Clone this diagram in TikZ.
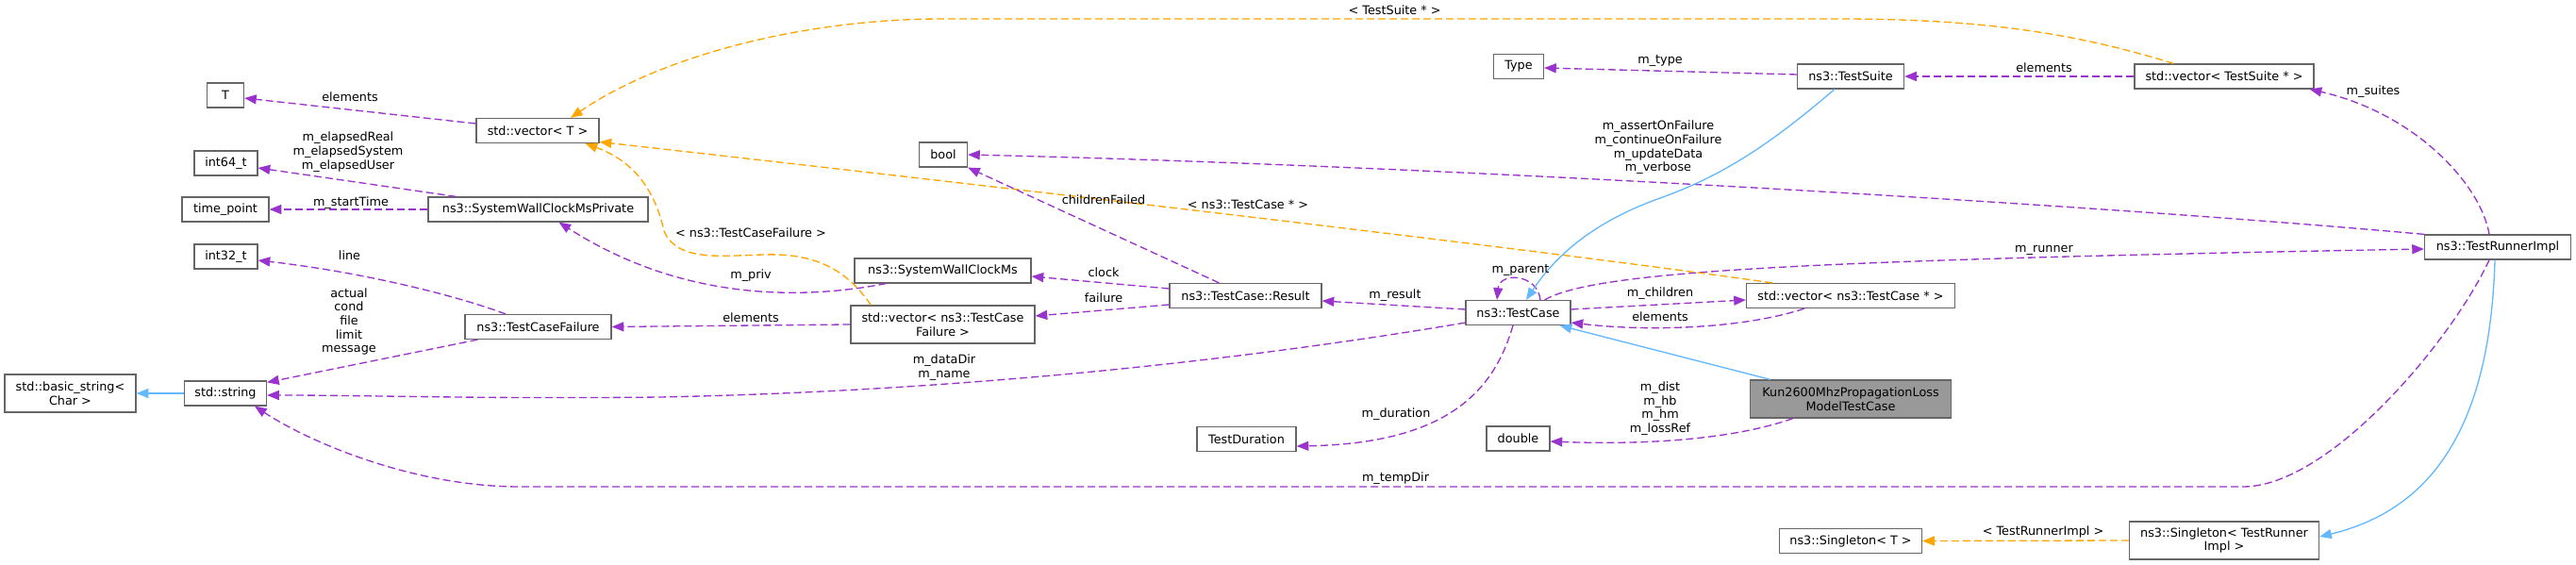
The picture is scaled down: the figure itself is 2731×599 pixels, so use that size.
\documentclass[tikz,border=0pt]{standalone}
\usepackage{fontspec}
\setmainfont{DejaVu Sans}
\usetikzlibrary{arrows.meta,calc}
\definecolor{edgepurple}{HTML}{9A32CD}
\definecolor{edgeorange}{HTML}{FFA500}
\definecolor{edgeblue}{HTML}{63B8FF}
\definecolor{nodeborder}{HTML}{666666}
\definecolor{mainfill}{HTML}{999999}
\begin{document}
\begin{tikzpicture}[x=0.75pt,y=-0.75pt,
  font=\fontsize{9.6}{11}\selectfont,
  box/.style={draw=nodeborder, line width=0.9pt, fill=white, rectangle, inner sep=1pt,
    minimum width=#1*0.75pt, minimum height=19.5pt, align=center},
  tall/.style={minimum height=30pt},
  mainbox/.style={fill=mainfill},
  lbl/.style={inner sep=0pt, align=center, text=black},
  uses/.style={draw=edgepurple, line width=1pt, dash pattern=on 6pt off 3pt,
    -{Triangle[length=9.5pt,width=7.5pt,fill=edgepurple]}},
  tmpl/.style={draw=edgeorange, line width=1pt, dash pattern=on 6pt off 3pt,
    -{Triangle[length=9.5pt,width=7.5pt,fill=edgeorange]}},
  inherit/.style={draw=edgeblue, line width=1pt,
    -{Triangle[length=9.5pt,width=7.5pt,fill=edgeblue]}},
]
\useasboundingbox (0,0) rectangle (2731,599);

% ---------- nodes ----------
\node[box=139, tall] (bs) at (74.5,417) {std::basic\_string<\\Char >};
\node[box=87] (str) at (239,417) {std::string};
\node[box=39] (T) at (239,101) {T};
\node[box=67] (i64) at (239.5,173) {int64\_t};
\node[box=92] (tp) at (239,222) {time\_point};
\node[box=67] (i32) at (239.5,272) {int32\_t};
\node[box=130] (vT) at (570,138.5) {std::vector< T >};
\node[box=233] (swp) at (570.5,222) {ns3::SystemWallClockMsPrivate};
\node[box=155] (tcf) at (570.5,346.5) {ns3::TestCaseFailure};
\node[box=51] (bool) at (1000,164) {bool};
\node[box=187] (swc) at (999.5,287) {ns3::SystemWallClockMs};
\node[box=195, tall] (vtcf) at (999.5,344) {std::vector< ns3::TestCase\\Failure >};
\node[box=161] (res) at (1320.5,313.5) {ns3::TestCase::Result};
\node[box=105] (tdur) at (1321.5,465.5) {TestDuration};
\node[box=53] (type) at (1610,70.5) {Type};
\node[box=111] (tc) at (1609.5,331.5) {ns3::TestCase};
\node[box=67] (dbl) at (1609.5,465) {double};
\node[box=113] (ts) at (1962,81) {ns3::TestSuite};
\node[box=221] (vtc) at (1962,313.5) {std::vector< ns3::TestCase * >};
\node[box=213, tall, mainbox] (kun) at (1962,423) {Kun2600MhzPropagationLoss\\ModelTestCase};
\node[box=151] (sgT) at (1962,573.5) {ns3::Singleton< T >};
\node[box=190] (vts) at (2358,81) {std::vector< TestSuite * >};
\node[box=201, tall] (sgR) at (2358,573) {ns3::Singleton< TestRunner\\Impl >};
\node[box=155] (tri) at (2648,262) {ns3::TestRunnerImpl};

% ---------- edges ----------
% vector<T> -> T
\draw[uses] ($(vT.west)+(0,-7.5)$) -- ($(T.east)+(0,3)$);
% SystemWallClockMsPrivate -> int64_t
\draw[uses] ($(swp.north west)+(30,0)$) -- ($(i64.east)+(0,5)$);
% SystemWallClockMsPrivate -> time_point
\draw[uses] (swp.west) -- (tp.east);
% TestCaseFailure -> int32_t
\draw[uses] ($(tcf.north)+(-34.5,0)$) .. controls (480,312) and (380,288) .. ($(i32.east)+(0,4)$);
% TestCaseFailure -> std::string
\draw[uses] ($(tcf.south west)+(14,0)$) -- ($(str.north east)+(0,2)$);
% std::string -> basic_string
\draw[inherit] (str.west) -- (bs.east);
% TestCase -> std::string
\draw[uses] ($(tc.south west)+(0,-3)$) .. controls (1300,385) and (1000,415) .. (700,421)
  .. controls (500,423) and (400,419) .. ($(str.east)+(0,2)$);
% TestRunnerImpl -> std::string
\draw[uses] ($(tri.south)+(-9,0)$) .. controls (2600,360) and (2470,516) .. (2378,516)
  -- (551,516) .. controls (440,516) and (330,470) .. ($(str.south)+(31,0)$);
% TestRunnerImpl -> Singleton<TestRunnerImpl>
\draw[inherit] ($(tri.south)+(-3,0)$) .. controls (2640,450) and (2580,540) .. ($(sgR.east)+(0,-4)$);
% Singleton<TestRunnerImpl> -> Singleton<T>
\draw[tmpl] (sgR.west) -- (sgT.east);
% TestCase -> TestRunnerImpl
\draw[uses] ($(tc.north east)+(-28,0)$) .. controls (1690,288) and (1900,276) .. ($(tri.west)+(0,2)$);
% TestRunnerImpl -> bool
\draw[uses] (tri.north west) .. controls (2200,215) and (1500,175) .. (bool.east);
% TestRunnerImpl -> vector<TestSuite*>
\draw[uses] ($(tri.north)+(-9,0)$) .. controls (2630,195) and (2560,120) .. ($(vts.south east)+(-5,0)$);
% vector<TestSuite*> -> TestSuite
\draw[uses] (vts.west) -- (ts.east);
% TestSuite -> Type
\draw[uses] ($(ts.west)+(0,-2)$) -- ($(type.east)+(0,1.5)$);
% vector<TestSuite*> -> vector<T>
\draw[tmpl] ($(vts.north west)+(42,0)$) .. controls (2200,35) and (2100,20) .. (1950,20)
  -- (1000,20) .. controls (850,20) and (700,60) .. ($(vT.north)+(35,0)$);
% vector<TestCase*> -> vector<T>
\draw[tmpl] ($(vtc.north west)+(28,0)$) .. controls (1600,260) and (900,180) .. ($(vT.east)+(0,12)$);
% vector<TestCaseFailure> -> vector<T>
\draw[tmpl] ($(vtcf.north west)+(22,0)$) .. controls (900,290) and (870,268) .. (810,270)
  .. controls (765,271) and (718,278) .. (704,245)
  .. controls (695,205) and (675,172) .. ($(vT.south east)+(-15,0)$);
% SystemWallClockMs -> SystemWallClockMsPrivate
\draw[uses] ($(swc.south west)+(34,0)$) .. controls (880,312) and (740,330) .. ($(swp.south)+(22,0)$);
% vector<TestCaseFailure> -> TestCaseFailure
\draw[uses] (vtcf.west) -- (tcf.east);
% Result -> SystemWallClockMs
\draw[uses] ($(res.west)+(0,-7.5)$) -- ($(swc.east)+(0,6)$);
% Result -> vector<TestCaseFailure>
\draw[uses] ($(res.west)+(0,9.5)$) -- ($(vtcf.east)+(0,-9)$);
% Result -> bool
\draw[uses] ($(res.north west)+(53,0)$) -- (bool.south east);
% TestCase -> Result
\draw[uses] ($(tc.west)+(0,-3.5)$) -- ($(res.east)+(0,5.5)$);
% TestCase -> TestCase (m_parent)
\draw[uses] ($(tc.north)+(23.5,0)$) .. controls (1630,290) and (1590,288) .. ($(tc.north)+(-22.5,0)$);
% TestCase -> vector<TestCase*>
\draw[uses] ($(tc.east)+(0,-3.5)$) -- ($(vtc.west)+(0,4.5)$);
% vector<TestCase*> -> TestCase
\draw[uses] ($(vtc.south west)+(62,0)$) .. controls (1850,348) and (1750,352) .. ($(tc.east)+(0,10.5)$);
% TestSuite -> TestCase
\draw[inherit] ($(ts.south)+(-17,0)$) .. controls (1880,150) and (1830,185) .. (1760,210)
  .. controls (1690,235) and (1650,270) .. ($(tc.north)+(8.5,0)$);
% Kun -> TestCase
\draw[inherit] ($(kun.north west)+(22,0)$) -- ($(tc.south east)+(-12,0)$);
% Kun -> double
\draw[uses] ($(kun.south west)+(46,0)$) .. controls (1840,465) and (1750,472) .. ($(dbl.east)+(0,3)$);
% TestCase -> TestDuration
\draw[uses] ($(tc.south)+(-5.5,0)$) .. controls (1585,410) and (1540,470) .. ($(tdur.east)+(0,7.5)$);

% ---------- labels ----------
\node[lbl] (l1) at (371,103) {elements};
\node[lbl] (l2) at (369,161) {m\_elapsedReal\\m\_elapsedSystem\\m\_elapsedUser};
\node[lbl] (l3) at (372,215) {m\_startTime};
\node[lbl] (l4) at (370.5,271) {line};
\node[lbl] (l5) at (370,341) {actual\\cond\\file\\limit\\message};
\node[lbl] (l7) at (1001,389.5) {m\_dataDir\\m\_name};
\node[lbl] (l8) at (1479.5,507) {m\_tempDir};
\node[lbl] (l10) at (2166,564) {< TestRunnerImpl >};
\node[lbl] (l11) at (2167,265) {m\_runner};
\node[lbl] (l12) at (1758,156.5) {m\_assertOnFailure\\m\_continueOnFailure\\m\_updateData\\m\_verbose};
\node[lbl] (l13) at (2516,97) {m\_suites};
\node[lbl] (l14) at (2167,72) {elements};
\node[lbl] (l15) at (1760,65) {m\_type};
\node[lbl] (l16) at (1478.6,11) {< TestSuite * >};
\node[lbl] (l17) at (1323,217) {< ns3::TestCase * >};
\node[lbl] (l18) at (796,247) {< ns3::TestCaseFailure >};
\node[lbl] (l19) at (796,292) {m\_priv};
\node[lbl] (l20) at (796,337) {elements};
\node[lbl] (l21) at (1170,289) {clock};
\node[lbl] (l22) at (1170,316) {failure};
\node[lbl] (l23) at (1170,212) {childrenFailed};
\node[lbl] (l24) at (1479,313) {m\_result};
\node[lbl] (l25) at (1612,287) {m\_parent};
\node[lbl] (l26) at (1760,311) {m\_children};
\node[lbl] (l27) at (1760,336) {elements};
\node[lbl] (l30) at (1760,433) {m\_dist\\m\_hb\\m\_hm\\m\_lossRef};
\node[lbl] (l31) at (1480,439) {m\_duration};
\end{tikzpicture}
\end{document}
